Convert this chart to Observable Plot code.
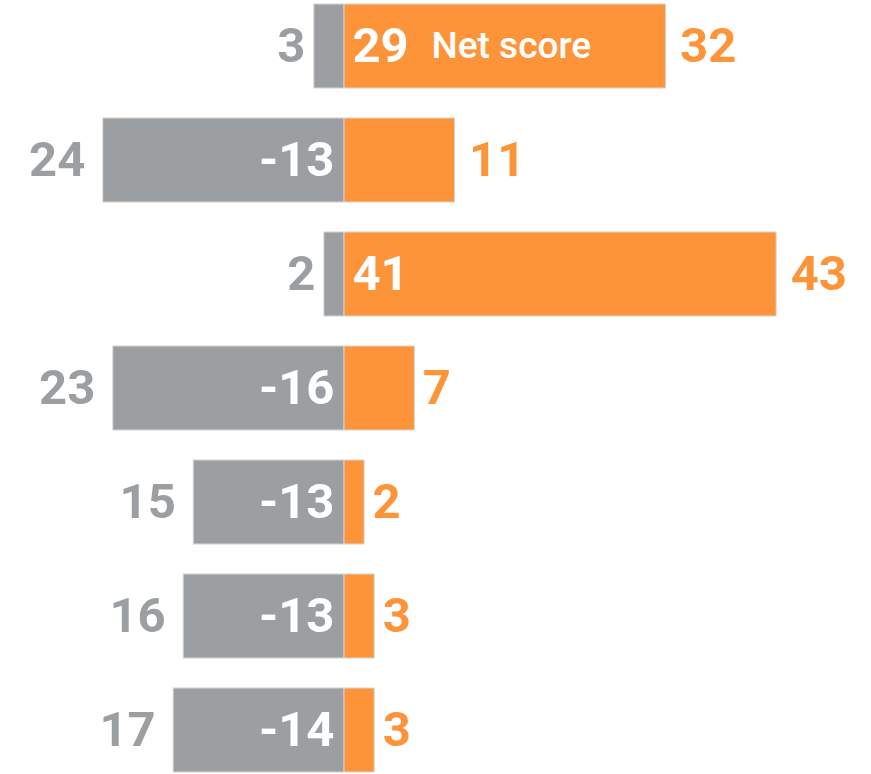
<!DOCTYPE html>
<html>
<head>
<meta charset="utf-8">
<script src="https://cdn.jsdelivr.net/npm/d3@7"></script>
<script src="https://cdn.jsdelivr.net/npm/@observablehq/plot@0.6"></script>
<style>
  html, body { margin: 0; padding: 0; background: #fff; overflow: hidden; }
  #chart svg { display: block; }
</style>
</head>
<body>
<div id="chart"></div>
<script>
const rows = ["Row 1", "Row 2", "Row 3", "Row 4", "Row 5", "Row 6", "Row 7"];
const negative = [3, 24, 2, 23, 15, 16, 17];
const positive = [32, 11, 43, 7, 2, 3, 3];
const net = [29, -13, 41, -16, -13, -13, -14];
const netLabel = "Net score";

const data = rows.map((r, i) => ({row: r, neg: negative[i], pos: positive[i], net: net[i]}));

const gray = "#9b9fa1";
const orange = "#fe943a";
const font = "Roboto, 'Noto Sans', sans-serif";
const big = {fontSize: 49, fontWeight: 700};

const chart = Plot.plot({
  width: 871,
  height: 775,
  marginTop: 2,
  marginBottom: 0,
  marginLeft: 0,
  marginRight: 0,
  style: {fontFamily: font, background: "#fff"},
  x: {domain: [-34.23, 52.44], axis: null},
  y: {domain: rows, axis: null, padding: 0.259, paddingOuter: 0},
  marks: [
    Plot.barX(data, {y: "row", x1: d => -d.neg, x2: 0, fill: gray, stroke: "#d4d4d4", strokeWidth: 1}),
    Plot.barX(data, {y: "row", x1: 0, x2: "pos", fill: orange, stroke: "#d4d4d4", strokeWidth: 1}),
    Plot.text(data.filter(d => d.neg < 10), {y: "row", x: d => -d.neg, text: d => String(d.neg), textAnchor: "end", dx: -9, fill: gray, ...big}),
    Plot.text(data.filter(d => d.neg >= 10), {y: "row", x: d => -d.neg, text: d => String(d.neg), textAnchor: "end", dx: -18, fill: gray, ...big}),
    Plot.text(data.filter(d => d.pos < 10), {y: "row", x: "pos", text: d => String(d.pos), textAnchor: "start", dx: 8, fill: orange, ...big}),
    Plot.text(data.filter(d => d.pos >= 10), {y: "row", x: "pos", text: d => String(d.pos), textAnchor: "start", dx: 14, fill: orange, ...big}),
    Plot.text(data.filter(d => d.net >= 0), {y: "row", x: 0, text: d => String(d.net), textAnchor: "start", dx: 8, fill: "#fff", ...big}),
    Plot.text(data.filter(d => d.net < 0), {y: "row", x: 0, text: d => String(d.net), textAnchor: "end", dx: -10, fill: "#fff", ...big}),
    Plot.text(data.slice(0, 1), {y: "row", x: 0, text: () => netLabel, textAnchor: "start", dx: 87, fill: "#fff", fontSize: 37, fontWeight: 500})
  ]
});
document.getElementById("chart").appendChild(chart);
</script>
</body>
</html>
